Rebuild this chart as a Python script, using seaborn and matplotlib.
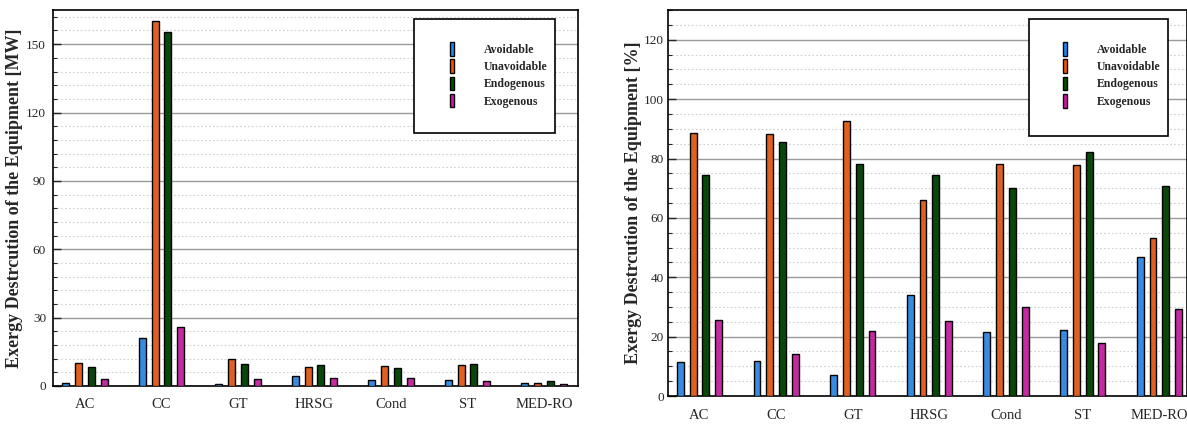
import numpy as np
import pandas as pd
import seaborn as sns
import matplotlib
matplotlib.use('Agg')
import matplotlib.pyplot as plt
from matplotlib.patches import Patch, Rectangle
from matplotlib.ticker import MultipleLocator

# equipment and destruction components
equipment = ['AC', 'CC', 'GT', 'HRSG', 'Cond', 'ST', 'MED-RO']
kinds = ['Avoidable', 'Unavoidable', 'Endogenous', 'Exogenous']
colors = ['#1a8cff', '#ff5500', '#005200', '#e010b0']

# exergy destruction [MW]
avoid_mw = [1.5, 21.1, 1.0, 4.2, 2.5, 2.8, 1.5]
unavoid_mw = [10.1, 160.3, 11.7, 8.3, 8.6, 9.1, 1.5]
endo_mw = [8.3, 155.3, 9.8, 9.4, 7.8, 9.7, 2.0]
exo_mw = [3.1, 26.0, 2.9, 3.4, 3.4, 2.2, 0.9]

# exergy destruction share [%]
avoid_pct = [11.4, 11.7, 7.2, 33.9, 21.7, 22.2, 46.9]
unavoid_pct = [88.6, 88.3, 92.8, 66.1, 78.3, 77.8, 53.1]
endo_pct = [74.3, 85.7, 78.1, 74.6, 70.1, 82.3, 70.8]
exo_pct = [25.7, 14.3, 21.9, 25.4, 29.9, 17.7, 29.2]

sns.set_style('white')
plt.rcParams['font.family'] = ['Liberation Serif', 'DejaVu Serif']


def make_df(series):
    rows = []
    for kind, vals in zip(kinds, series):
        for eq, v in zip(equipment, vals):
            rows.append({'equipment': eq, 'kind': kind, 'value': v})
    return pd.DataFrame(rows)


def draw_panel(ax, df, ylim, major, minor, ylabel, xlim, tickpad, labelx, box, anchor):
    sns.barplot(data=df, x='equipment', y='value', hue='kind', hue_order=kinds,
                palette=colors, width=0.667, gap=0.46, edgecolor='black',
                linewidth=1, errorbar=None, legend=False, ax=ax, zorder=3)
    ax.set_xlim(*xlim)
    ax.set_ylim(*ylim)
    ax.yaxis.set_major_locator(MultipleLocator(major))
    ax.yaxis.set_minor_locator(MultipleLocator(minor))
    ax.set_axisbelow(True)
    ax.yaxis.grid(True, which='major', color='#9a9a9a', lw=1, ls='-')
    ax.yaxis.grid(True, which='minor', color='#cfcfcf', lw=0.8, ls=(0, (1.5, 2)))
    ax.xaxis.grid(False)
    for s in ax.spines.values():
        s.set_color('black')
        s.set_linewidth(1.2)
    ax.tick_params(axis='y', which='major', direction='in', length=6, width=1,
                   labelsize=9.5, pad=tickpad, left=True)
    ax.tick_params(axis='y', which='minor', direction='in', length=3, width=0.8, left=True)
    ax.tick_params(axis='x', length=0, labelsize=10.5, pad=9)
    ax.set_xlabel('')
    ax.set_ylabel(ylabel, fontsize=13, fontweight='bold')
    ax.yaxis.set_label_coords(labelx, 0.5)

    # legend frame
    ax.add_patch(Rectangle((box[0], box[1]), box[2], box[3], transform=ax.transAxes,
                           facecolor='white', edgecolor='black', lw=1.2, zorder=5))
    handles = [Patch(facecolor=c, edgecolor='black', linewidth=1) for c in colors]
    leg = ax.legend(handles, kinds, loc='upper left', bbox_to_anchor=anchor,
                    frameon=False, borderpad=0, borderaxespad=0,
                    handlelength=0.38, handleheight=1.4, handletextpad=2.5,
                    labelspacing=0.3, prop={'weight': 'bold', 'size': 8.5})
    leg.set_zorder(6)


fig = plt.figure(figsize=(11.87, 4.25), dpi=100)
ax1 = fig.add_axes([0.0447, 0.0918, 0.4423, 0.8847])
ax2 = fig.add_axes([0.5628, 0.0682, 0.4372, 0.908])

draw_panel(ax1, make_df([avoid_mw, unavoid_mw, endo_mw, exo_mw]), (0, 165), 30, 6,
           'Exergy Destrcution of the Equipment [MW]', (-0.418, 6.445), 5, -0.057,
           (0.688, 0.673, 0.268, 0.303), (0.756, 0.915))
draw_panel(ax2, make_df([avoid_pct, unavoid_pct, endo_pct, exo_pct]), (0, 130), 20, 5,
           'Exergy Destrcution of the Equipment [%]', (-0.41, 6.36), 3, -0.05,
           (0.6956, 0.674, 0.268, 0.303), (0.761, 0.917))

fig.savefig('out.png', dpi=100)
